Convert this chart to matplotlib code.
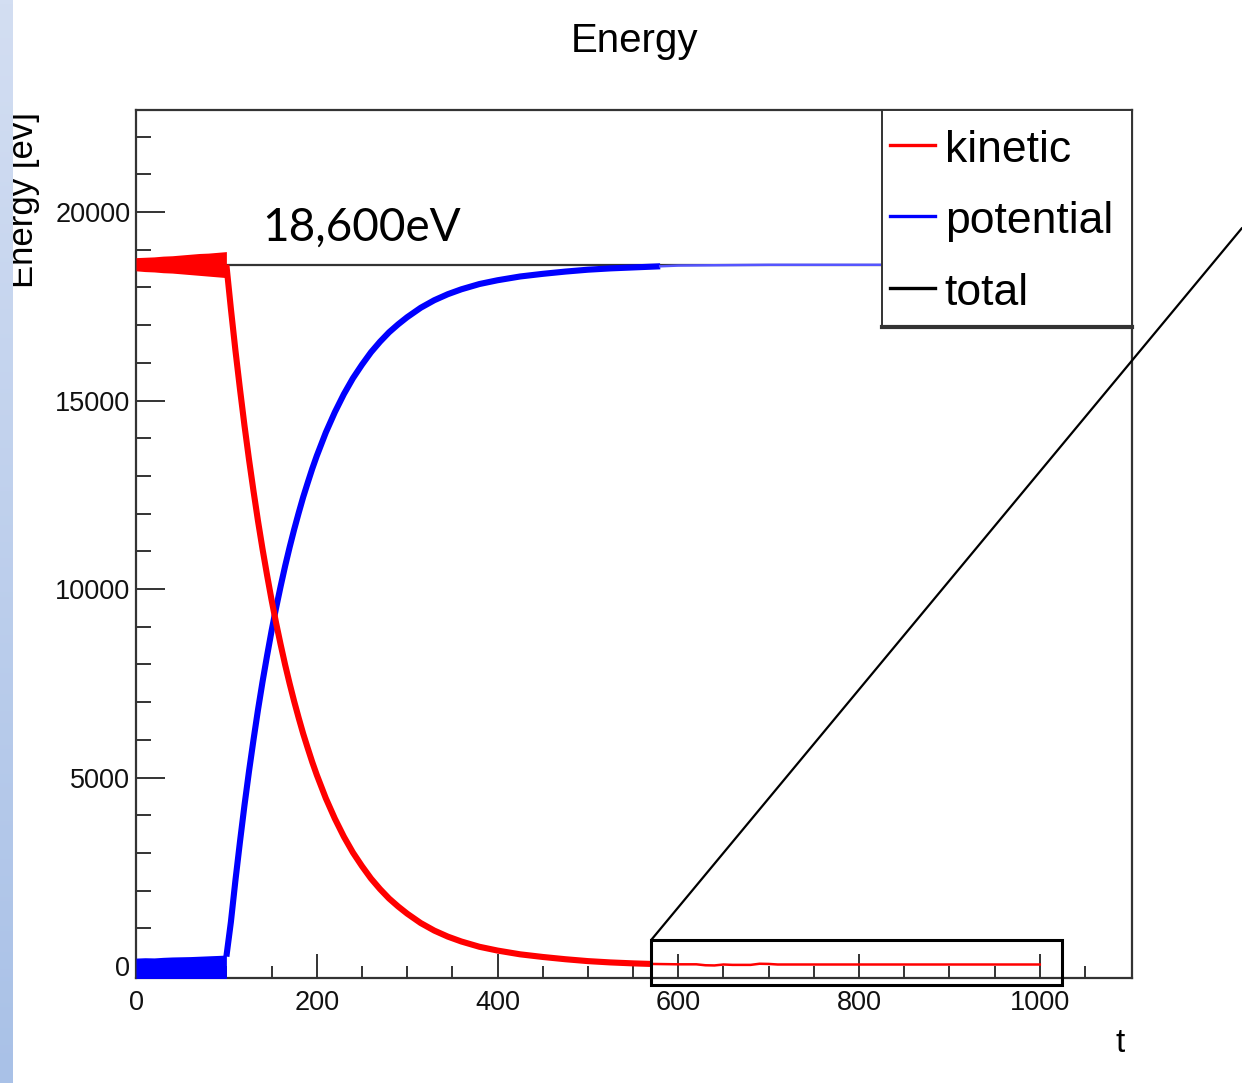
import numpy as np
import matplotlib.pyplot as plt
from matplotlib.patches import Rectangle, ConnectionPatch
from matplotlib.lines import Line2D

NARROW = ['Liberation Sans Narrow', 'Liberation Sans', 'DejaVu Sans']

# dense oscillation before t=100, kept as band envelopes
t_band = [0, 10, 20, 30, 40, 50, 60, 70, 80, 90, 100]
kin_hi = [18790, 18800, 18810, 18830, 18840, 18860, 18880, 18900, 18910, 18930, 18950]
kin_lo = [18440, 18420, 18410, 18390, 18380, 18360, 18340, 18320, 18300, 18280, 18260]
pot_hi = [210, 220, 215, 230, 240, 245, 250, 260, 270, 280, 290]
pot_lo = [-330, -330, -330, -330, -330, -330, -330, -330, -330, -330, -330]

# kinetic energy after release
t_kin = [100, 105, 110, 115, 120, 125, 130, 135, 140, 145, 150, 155, 160, 165, 170, 175,
         180, 185, 190, 195, 200, 210, 220, 230, 240, 250, 260, 270, 280, 290, 300, 315,
         330, 345, 360, 380, 400, 425, 450, 475, 500, 525, 550, 570]
kin = [18600, 17430, 16330, 15310, 14340, 13440, 12600, 11800, 11060, 10370, 9710, 9100,
       8530, 7990, 7490, 7020, 6580, 6160, 5780, 5410, 5070, 4450, 3910, 3430, 3010, 2650,
       2320, 2040, 1790, 1580, 1390, 1140, 940, 780, 650, 510, 410, 310, 240, 180, 130, 95,
       70, 55]
t_kin_tail = [570, 600, 620, 630, 640, 650, 660, 680, 690, 700, 710, 720, 800, 900, 1000]
kin_tail = [55, 45, 45, 20, 15, 40, 30, 30, 60, 55, 40, 40, 40, 40, 40]

# potential energy after release
t_pot = [100, 105, 110, 115, 120, 125, 130, 135, 140, 145, 150, 155, 160, 165, 170, 175,
         180, 185, 190, 195, 200, 210, 220, 230, 240, 250, 260, 270, 280, 290, 300, 315,
         330, 345, 360, 380, 400, 425, 450, 475, 500, 525, 550, 580]
pot = [250, 1170, 2270, 3290, 4260, 5160, 6000, 6800, 7540, 8230, 8890, 9500, 10070, 10610,
       11110, 11580, 12020, 12440, 12820, 13190, 13530, 14150, 14690, 15170, 15590, 15950,
       16280, 16560, 16810, 17020, 17210, 17460, 17660, 17820, 17950, 18090, 18190, 18290,
       18360, 18420, 18470, 18505, 18530, 18560]
t_pot_tail = [580, 600, 700, 800, 900, 1000]
pot_tail = [18560, 18580, 18600, 18600, 18600, 18600]

t_tot = [0, 1000]
tot = [18600, 18600]

labels = ['kinetic', 'potential', 'total']
colors = ['#ff0000', '#0000ff', '#000000']

fig = plt.figure(figsize=(12.42, 10.83), dpi=100)
ax = fig.add_axes([136 / 1242, 105 / 1083, 996 / 1242, 868 / 1083])

ax.plot(t_tot, tot, color='#333333', lw=1.6, zorder=2)
ax.fill_between(t_band, pot_lo, pot_hi, color=colors[1], lw=0, zorder=3)
ax.plot(t_pot, pot, color=colors[1], lw=4.4, zorder=3, solid_capstyle='butt')
ax.plot(t_pot_tail, pot_tail, color='#5555ff', lw=1.8, zorder=3)
ax.fill_between(t_band, kin_lo, kin_hi, color=colors[0], lw=0, zorder=4)
ax.plot(t_kin, kin, color=colors[0], lw=4.4, zorder=4, solid_capstyle='butt')
ax.plot(t_kin_tail, kin_tail, color=colors[0], lw=1.8, zorder=4)

ax.set_xlim(0, 1102)
ax.set_ylim(-318, 22706)
ax.set_xticks(np.arange(0, 1001, 200))
ax.set_xticks(np.arange(0, 1051, 50), minor=True)
ax.set_yticks(np.arange(0, 20001, 5000))
ax.set_yticks(np.arange(0, 22001, 1000), minor=True)
ax.tick_params(which='both', direction='in', top=False, right=False, color='#333333', width=1.4)
ax.tick_params(axis='y', which='major', length=21, pad=4)
ax.tick_params(axis='y', which='minor', length=11)
ax.tick_params(axis='x', which='major', length=17, pad=9)
ax.tick_params(axis='x', which='minor', length=9)
for lab in ax.get_xticklabels() + ax.get_yticklabels():
    lab.set_family(NARROW)
    lab.set_fontsize(19.5)
    lab.set_color('#111111')
for s in ax.spines.values():
    s.set_linewidth(1.6)
    s.set_color('#333333')

# legend box drawn ROOT-style
ax.add_patch(Rectangle((0.749, 0.75), 0.251, 0.25, transform=ax.transAxes, facecolor='white',
                       edgecolor='#333333', lw=1.4, zorder=7, clip_on=False))
ax.add_line(Line2D([0.749, 1.0], [0.75, 0.75], transform=ax.transAxes, color='#333333',
                   lw=3, zorder=7, clip_on=False))
rows = [0.9401, 0.8583, 0.7753]
for lab, col, yb in zip(labels, colors, rows):
    ax.add_line(Line2D([0.757, 0.802], [yb + 0.02, yb + 0.02], transform=ax.transAxes,
                       color=col, lw=2.4, zorder=8))
    ax.text(0.812, yb, lab, transform=ax.transAxes, family=NARROW, fontsize=32,
            va='baseline', ha='left', zorder=8)

ax.text(140, 19250, '18,600eV', family=['Lato', 'DejaVu Sans'],
        fontsize=33, va='baseline', ha='left', zorder=6)

# zoom box and its guide lines
ax.add_patch(Rectangle((570, -504), 455, 1194, fill=False, ec='black', lw=2.2,
                       zorder=6, clip_on=False))
for xa, ya, yb in [(570, 690, 1 - 228 / 1083), (1025, -504, 1 - 968 / 1083)]:
    con = ConnectionPatch(xyA=(xa, ya), coordsA='data', axesA=ax,
                          xyB=(1.0, yb), coordsB='figure fraction',
                          color='black', lw=1.6, zorder=6)
    fig.add_artist(con)

fig.text(634 / 1242, 1 - 52 / 1083, 'Energy', family=NARROW, fontsize=29,
         ha='center', va='baseline')
fig.text(1120 / 1242, 1 - 1052 / 1083, 't', family=NARROW, fontsize=24,
         ha='center', va='baseline')
fig.text(33 / 1242, 1 - 288 / 1083, 'Energy [ev]', family=['Liberation Sans', 'DejaVu Sans'],
         fontsize=25, rotation=90, rotation_mode='anchor', ha='left', va='baseline')

# slide edge strip
strip = fig.add_axes([0, 0, 13 / 1242, 1], zorder=10)
grad = np.linspace(0, 1, 256).reshape(-1, 1)
strip.imshow(grad, aspect='auto', cmap=plt.matplotlib.colors.LinearSegmentedColormap.from_list(
    'strip', ['#a9c1e7', '#d3def2']), origin='lower', extent=[0, 1, 0, 1])
strip.axis('off')

fig.savefig('out.png', dpi=100)
